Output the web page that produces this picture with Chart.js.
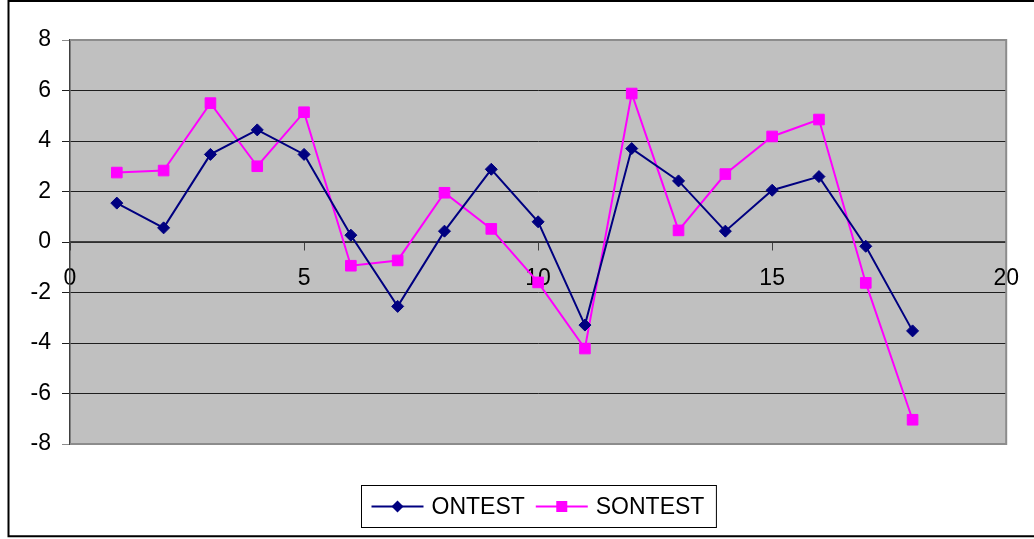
<!DOCTYPE html>
<html>
<head>
<meta charset="utf-8">
<script src="https://cdn.jsdelivr.net/npm/chart.js@4/dist/chart.umd.min.js"></script>
<style>
  html, body { margin: 0; padding: 0; background: #fff; overflow: hidden; }
  #wrap { width: 1034px; height: 539px; position: relative; }
</style>
</head>
<body>
<div id="wrap"><canvas id="c" width="1034" height="539"></canvas></div>
<script>
// Run index on the x axis, one reading per run for each series
const runs    = [1, 2, 3, 4, 5, 6, 7, 8, 9, 10, 11, 12, 13, 14, 15, 16, 17, 18];
const ontest  = [1.54, 0.56, 3.47, 4.44, 3.47, 0.27, -2.55, 0.43, 2.88, 0.80, -3.29, 3.70, 2.42, 0.43, 2.05, 2.59, -0.17, -3.52];
const sontest = [2.75, 2.83, 5.50, 3.00, 5.14, -0.94, -0.73, 1.95, 0.52, -1.60, -4.22, 5.88, 0.46, 2.69, 4.18, 4.85, -1.62, -7.04];
const seriesNames = ['ONTEST', 'SONTEST'];
const xTicks = [0, 5, 10, 15, 20];
const yTicks = [-8, -6, -4, -2, 0, 2, 4, 6, 8];

const NAVY = '#000080';
const PINK = '#FF00FF';
const FONT = '"Liberation Sans", Arial, sans-serif';

const toPoints = vals => runs.map((x, i) => ({ x: x, y: vals[i] }));

// Grey plot background plus the outer black frame
const backdrop = {
  id: 'backdrop',
  beforeDraw(chart) {
    const { ctx, chartArea: a } = chart;
    ctx.save();
    ctx.fillStyle = '#C0C0C0';
    ctx.fillRect(a.left, a.top, a.right - a.left, a.bottom - a.top);
    ctx.restore();
  },
  beforeDatasetsDraw(chart) {
    const { ctx, chartArea: a } = chart;
    ctx.save();
    ctx.strokeStyle = '#8C8C8C';
    ctx.lineWidth = 2;
    ctx.beginPath();
    ctx.moveTo(a.left, a.top);
    ctx.lineTo(a.right, a.top);
    ctx.lineTo(a.right, a.bottom);
    ctx.lineTo(a.left, a.bottom);
    ctx.stroke();
    ctx.restore();
  },
  afterDraw(chart) {
    const { ctx } = chart;
    ctx.save();
    ctx.strokeStyle = '#000';
    ctx.lineWidth = 2;
    ctx.beginPath();
    ctx.moveTo(1100, 1);
    ctx.lineTo(8.5, 1);
    ctx.lineTo(8.5, 536.3);
    ctx.lineTo(1100, 536.3);
    ctx.stroke();
    ctx.restore();
  }
};

// Boxed legend below the plot: line with marker, then the series name
function drawMarker(ctx, style, x, y, color) {
  ctx.fillStyle = color;
  ctx.beginPath();
  if (style === 'rectRot') {
    const r = 6;
    ctx.moveTo(x, y - r);
    ctx.lineTo(x + r, y);
    ctx.lineTo(x, y + r);
    ctx.lineTo(x - r, y);
  } else {
    const h = 5.5;
    ctx.rect(x - h, y - h, 2 * h, 2 * h);
  }
  ctx.closePath();
  ctx.fill();
}

const boxLegend = {
  id: 'boxLegend',
  afterDraw(chart) {
    const { ctx, chartArea: a } = chart;
    const sets = chart.data.datasets;
    ctx.save();
    ctx.font = '23px ' + FONT;
    const padL = 10, lineLen = 52, gapText = 8, gapItem = 11, padR = 12;
    const widths = sets.map(d => ctx.measureText(d.label).width);
    let total = padL + padR;
    widths.forEach((w, i) => { total += lineLen + gapText + w + (i < widths.length - 1 ? gapItem : 0); });
    const cx = (a.left + a.right) / 2;
    const left = Math.round(cx - total / 2) + 0.5;
    const top = 485.5, bottom = 527.5;
    const cy = (top + bottom) / 2;
    ctx.fillStyle = '#fff';
    ctx.fillRect(left, top, total, bottom - top);
    ctx.strokeStyle = '#000';
    ctx.lineWidth = 1;
    ctx.strokeRect(left, top, total, bottom - top);
    let x = left + padL;
    sets.forEach((d, i) => {
      ctx.strokeStyle = d.borderColor;
      ctx.lineWidth = 2;
      ctx.beginPath();
      ctx.moveTo(x, cy);
      ctx.lineTo(x + lineLen, cy);
      ctx.stroke();
      drawMarker(ctx, d.pointStyle, x + lineLen / 2, cy, d.pointBackgroundColor);
      x += lineLen + gapText;
      ctx.fillStyle = '#000';
      ctx.textAlign = 'left';
      ctx.textBaseline = 'middle';
      ctx.fillText(d.label, x, cy + 1);
      x += widths[i] + gapItem;
    });
    ctx.restore();
  }
};

new Chart(document.getElementById('c'), {
  type: 'scatter',
  data: {
    datasets: [
      {
        label: seriesNames[0],
        data: toPoints(ontest),
        showLine: true,
        borderColor: NAVY,
        borderWidth: 2,
        pointStyle: 'rectRot',
        pointRadius: 6,
        pointBackgroundColor: NAVY,
        pointBorderColor: NAVY,
        pointBorderWidth: 1
      },
      {
        label: seriesNames[1],
        data: toPoints(sontest),
        showLine: true,
        borderColor: PINK,
        borderWidth: 2,
        pointStyle: 'rect',
        pointRadius: 7.5,
        pointBackgroundColor: PINK,
        pointBorderColor: PINK,
        pointBorderWidth: 1
      }
    ]
  },
  options: {
    responsive: false,
    animation: false,
    events: [],
    layout: { padding: { left: 8, top: 40, right: 26, bottom: 95 } },
    plugins: {
      legend: { display: false },
      tooltip: { enabled: false }
    },
    scales: {
      x: {
        type: 'linear',
        position: { y: 0 },
        min: xTicks[0],
        max: xTicks[xTicks.length - 1],
        afterBuildTicks: s => { s.ticks = xTicks.map(v => ({ value: v })); },
        grid: { drawOnChartArea: false, drawTicks: true, tickLength: 8, color: '#404040' },
        border: { display: true, color: '#404040', width: 1.5 },
        ticks: { color: '#000', padding: 15, maxRotation: 0, font: { family: FONT, size: 23 } }
      },
      y: {
        type: 'linear',
        position: 'left',
        min: yTicks[0],
        max: yTicks[yTicks.length - 1],
        afterBuildTicks: s => { s.ticks = yTicks.map(v => ({ value: v })); },
        afterFit: s => { s.width = 62; },
        grid: {
          drawTicks: true,
          tickLength: 8,
          lineWidth: 1,
          color: c => (c.tick && Math.abs(c.tick.value) === 8) ? '#8C8C8C' : '#1E1E1E'
        },
        border: { display: true, color: '#404040', width: 1.5 },
        ticks: { color: '#000', padding: 11, font: { family: FONT, size: 23 } }
      }
    }
  },
  plugins: [backdrop, boxLegend]
});
</script>
</body>
</html>
